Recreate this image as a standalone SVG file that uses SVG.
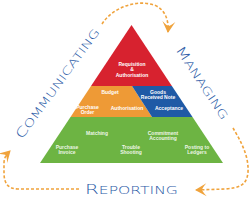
<svg xmlns="http://www.w3.org/2000/svg" width="251" height="201" viewBox="0 0 251 201">
<style>
.t{font-family:"Liberation Sans",Arial,sans-serif;font-size:5px;font-weight:bold;fill:#fff;text-anchor:middle}
.g{fill-opacity:0.9}
.big{font-family:"DejaVu Sans",sans-serif;font-weight:200;fill:#2a5aa6;text-anchor:middle}
.d{fill:none;stroke:#f0a33c;stroke-width:1.6;stroke-dasharray:3 2}
</style>
<defs>
<marker id="ah" markerUnits="userSpaceOnUse" markerWidth="16" markerHeight="16" viewBox="-12 -8 14 16" refX="0" refY="0" orient="auto">
<path d="M1,0 L-10.5,-6.5 Q-6,-1.5 -6,0 Q-6,1.5 -10.5,6.5 Z" fill="#f0a33c"/>
</marker>
</defs>
<rect width="251" height="201" fill="#fff"/>
<g id="connectors">
<path class="d" d="M102,24 C112,8 136,-1 154,5 C165,9 169,20 168,32" marker-end="url(#ah)"/>
<path class="d" d="M233,128 C240,140 249,155 248,172 C247,186 238,188 225,189 L196,190" marker-end="url(#ah)"/>
<path class="d" d="M79,189 L18,189 C8,189 4,183 4,173 L4,163 C4,158 6,155 10,151" marker-end="url(#ah)"/>
</g>
<g id="tier-red">
<polygon points="131.5,25 171.9,86 91,86" fill="#d7222f"/>
<text class="t" x="132" y="66">Requisition</text>
<text class="t" x="132" y="71.3">&amp;</text>
<text class="t" x="132" y="76.6">Authorisation</text>
</g>
<g id="tier-orange">
<polygon points="91,86 132,86 152,117 70.5,117" fill="#ee9a36"/>
<text class="t" x="110" y="93.5">Budget</text>
<text class="t" x="87.5" y="109">Purchase</text>
<text class="t" x="87.5" y="114.4">Order</text>
<text class="t" x="127" y="110">Authorisation</text>
</g>
<g id="tier-blue">
<polygon points="132,86 171.9,86 192.5,117 152,117" fill="#1f5aa6"/>
<text class="t" x="158" y="93.5">Goods</text>
<text class="t" x="158" y="99">Received Note</text>
<text class="t" x="169" y="110">Acceptance</text>
</g>
<g id="tier-green">
<polygon points="70.5,117 192.5,117 223,163 40,163" fill="#6db443"/>
<text class="t g" x="97" y="135">Matching</text>
<text class="t g" x="163" y="135">Commitment</text>
<text class="t g" x="163" y="140.3">Accounting</text>
<text class="t g" x="67" y="148.5">Purchase</text>
<text class="t g" x="67" y="153.9">Invoice</text>
<text class="t g" x="131" y="148.5">Trouble</text>
<text class="t g" x="131" y="153.9">Shooting</text>
<text class="t g" x="197" y="148.5">Posting to</text>
<text class="t g" x="197" y="153.9">Ledgers</text>
</g>
<g id="label-communicating" transform="translate(61,86) rotate(-54)">
<text class="big" x="0" y="0" textLength="133" lengthAdjust="spacingAndGlyphs"><tspan font-size="13">C</tspan><tspan font-size="11">OMMUNICATING</tspan></text>
</g>
<g id="label-managing" transform="translate(198.7,85.2) rotate(56.5)">
<text class="big" x="0" y="0" textLength="85" lengthAdjust="spacingAndGlyphs"><tspan font-size="13">M</tspan><tspan font-size="11">ANAGING</tspan></text>
</g>
<g id="label-reporting">
<text class="big" x="131.5" y="194" textLength="93" lengthAdjust="spacingAndGlyphs"><tspan font-size="14">R</tspan><tspan font-size="11">EPORTING</tspan></text>
</g>
</svg>
